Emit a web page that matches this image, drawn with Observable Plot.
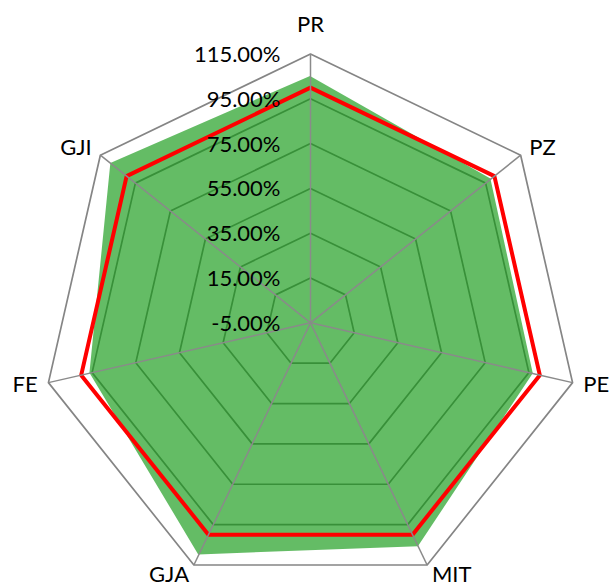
<!DOCTYPE html>
<html>
<head>
<meta charset="utf-8">
<script src="https://cdn.jsdelivr.net/npm/d3@7"></script>
<script src="https://cdn.jsdelivr.net/npm/@observablehq/plot@0.6"></script>
<style>
  html, body { margin: 0; padding: 0; background: #ffffff; }
  #chart { width: 610px; height: 583px; }
</style>
</head>
<body>
<div id="chart"></div>
<script>
// ---- data ----
const categories = ["PR", "PZ", "PE", "MIT", "GJA", "FE", "GJI"];
const actual = [105, 98, 97, 106, 110, 96, 109];      // green filled series (%)
const target = [100, 100, 100, 100, 100, 100, 100];   // red line series (%)
const ticks = [-5, 15, 35, 55, 75, 95, 115];
const tickLabels = ["-5.00%", "15.00%", "35.00%", "55.00%", "75.00%", "95.00%", "115.00%"];

// ---- geometry helpers (polar -> cartesian in value units) ----
const W = 610, H = 583, k = 2.24, cx = 310, cy = 322.3;   // k = px per value unit
const rMin = ticks[0];
const rMax = ticks[ticks.length - 1];
const n = categories.length;
const ang = i => i * 2 * Math.PI / n;
const px = (v, i) => (v - rMin) * Math.sin(ang(i));
const py = (v, i) => (v - rMin) * Math.cos(ang(i));

const actualPts = categories.map((c, i) => ({c, x: px(actual[i], i), y: py(actual[i], i)}));
const targetPts = categories.map((c, i) => ({c, x: px(target[i], i), y: py(target[i], i)}));
const ringPts = ticks.slice(1).flatMap(t => categories.map((c, i) => ({t, x: px(t, i), y: py(t, i)})));
const spokes = categories.map((c, i) => ({c, x2: px(rMax, i), y2: py(rMax, i)}));
// category labels: placed just outside the outer vertex, Excel-like
const gap = 11, halfText = 18;
const catLabels = categories.map((c, i) => {
  const s = Math.sin(ang(i)), co = Math.cos(ang(i));
  const side = s > 0.01 ? "start" : s < -0.01 ? "end" : "middle";
  const g = side === "middle" ? gap + halfText : gap;
  return {c, side, x: px(rMax, i) + g * s / k, y: py(rMax, i) + g * co / k};
});
const tickPts = ticks.map((t, j) => ({label: tickLabels[j], x: px(t, 0), y: py(t, 0)}));

const fs = 22;
const chart = Plot.plot({
  width: W,
  height: H,
  margin: 0,
  x: {domain: [-cx / k, (W - cx) / k], axis: null},
  y: {domain: [-(H - cy) / k, cy / k], axis: null},
  style: {fontFamily: "Lato, 'Open Sans', sans-serif", background: "#ffffff"},
  marks: [
    Plot.line(ringPts, {x: "x", y: "y", z: "t", curve: "linear-closed", stroke: "#858585", strokeWidth: 1.7}),
    Plot.area(actualPts, {x1: "x", y1: "y", x2: 0, y2: 0, curve: "linear-closed", fill: "rgb(12,150,14)", fillOpacity: 0.64}),
    Plot.line(targetPts, {x: "x", y: "y", curve: "linear-closed", stroke: "#ff0000", strokeWidth: 4, strokeLinejoin: "miter"}),
    Plot.link(spokes, {x1: 0, y1: 0, x2: "x2", y2: "y2", stroke: "#8a8a8a", strokeWidth: 1.5}),
    Plot.text(tickPts, {x: "x", y: "y", text: "label", textAnchor: "end", dx: -30, dy: 1, fontSize: fs, fill: "#000000"}),
    Plot.text(catLabels.filter(d => d.side === "middle"), {x: "x", y: "y", text: "c", textAnchor: "middle", fontSize: fs, fill: "#000000"}),
    Plot.text(catLabels.filter(d => d.side === "start"), {x: "x", y: "y", text: "c", textAnchor: "start", fontSize: fs, fill: "#000000"}),
    Plot.text(catLabels.filter(d => d.side === "end"), {x: "x", y: "y", text: "c", textAnchor: "end", fontSize: fs, fill: "#000000"})
  ]
});
document.getElementById("chart").appendChild(chart);
</script>
</body>
</html>
